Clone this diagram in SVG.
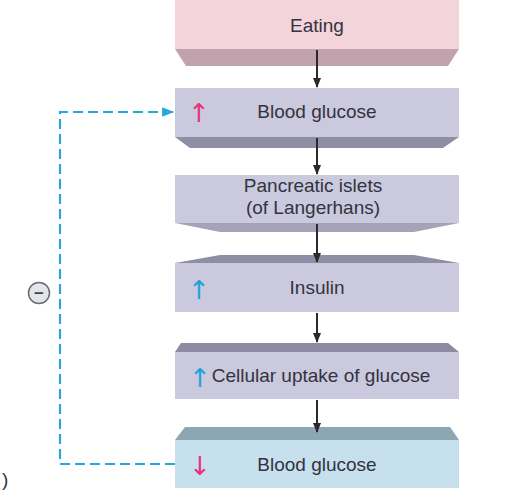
<svg xmlns="http://www.w3.org/2000/svg" width="524" height="494" viewBox="0 0 524 494">
<style>
.lbl{font-family:"Liberation Sans",Arial,sans-serif;font-size:19px;fill:#333340;text-anchor:middle}
.sym{font-family:"DejaVu Sans","Liberation Sans",sans-serif;font-size:26px;text-anchor:middle}
.pink{fill:#e8357a}
.blue{fill:#1fa3dc}
.lav{fill:#cac9dd}
.conn{stroke:#2a2a2a;stroke-width:2;fill:none}
.fb{stroke:#2aa6dc;stroke-width:2.2;fill:none;stroke-dasharray:10 5}
</style>
<defs>
<marker id="ah" viewBox="0 0 10 10" refX="9" refY="5" markerWidth="5" markerHeight="5" orient="auto" markerUnits="strokeWidth">
<path d="M0,1 L10,5 L0,9 Z" fill="#2a2a2a"/>
</marker>
<marker id="ahb" viewBox="0 0 10 10" refX="9" refY="5" markerWidth="5.5" markerHeight="5.5" orient="auto" markerUnits="strokeWidth">
<path d="M0,1 L10,5 L0,9 Z" fill="#2aa6dc"/>
</marker>
</defs>

<g id="eating">
<rect x="175" y="0" width="284" height="49" fill="#f4d4db"/>
<polygon points="175,49 459,49 448,66 186,66" fill="#c0a3ac"/>
<text class="lbl" x="317" y="32">Eating</text>
</g>

<g id="blood-glucose-up">
<rect x="175" y="88" width="284" height="49" class="lav"/>
<polygon points="175,137 459,137 443,148 190,148" fill="#8f8ea4"/>
<text class="sym pink" x="199" y="122">↑</text>
<text class="lbl" x="317" y="118">Blood glucose</text>
</g>

<g id="pancreatic-islets">
<rect x="175" y="175" width="284" height="48" class="lav"/>
<polygon points="175,223 459,223 414,232 220,232" fill="#a4a3b8"/>
<text class="lbl" x="313" y="192">Pancreatic islets</text>
<text class="lbl" x="313" y="214">(of Langerhans)</text>
</g>

<g id="insulin">
<polygon points="220,255 414,255 459,263 175,263" fill="#8f8ea4"/>
<rect x="175" y="263" width="284" height="49" class="lav"/>
<text class="sym blue" x="199" y="299">↑</text>
<text class="lbl" x="317" y="294">Insulin</text>
</g>

<g id="cellular-uptake">
<polygon points="181,343 448,343 459,352 175,352" fill="#8c8ba1"/>
<rect x="175" y="352" width="284" height="47" class="lav"/>
<text class="sym blue" x="200" y="387">↑</text>
<text class="lbl" x="321" y="382">Cellular uptake of glucose</text>
</g>

<g id="blood-glucose-down">
<polygon points="185,427 450,427 459,440 175,440" fill="#8ca6b4"/>
<rect x="175" y="440" width="284" height="48" fill="#c7e0ee"/>
<text class="sym pink" x="200" y="475">↓</text>
<text class="lbl" x="317" y="471">Blood glucose</text>
</g>

<g id="inhibit">
<circle cx="39" cy="293" r="10.5" fill="#e2e6ec" stroke="#6a6a70" stroke-width="1.5"/>
<text x="39" y="299" font-family="'Liberation Sans',Arial,sans-serif" font-size="17" font-weight="bold" fill="#444" text-anchor="middle">−</text>
</g>

<g id="connectors">
<line class="conn" x1="317" y1="50" x2="317" y2="87" marker-end="url(#ah)"/>
<line class="conn" x1="317" y1="138" x2="317" y2="174" marker-end="url(#ah)"/>
<line class="conn" x1="317" y1="224" x2="317" y2="262" marker-end="url(#ah)"/>
<line class="conn" x1="317" y1="313" x2="317" y2="342" marker-end="url(#ah)"/>
<line class="conn" x1="317" y1="400" x2="317" y2="432" marker-end="url(#ah)"/>
<path class="fb" d="M175,464 H60 V112 H173" marker-end="url(#ahb)"/>
</g>

<text x="2" y="486" font-family="'Liberation Sans',Arial,sans-serif" font-size="19" fill="#333">)</text>
</svg>
